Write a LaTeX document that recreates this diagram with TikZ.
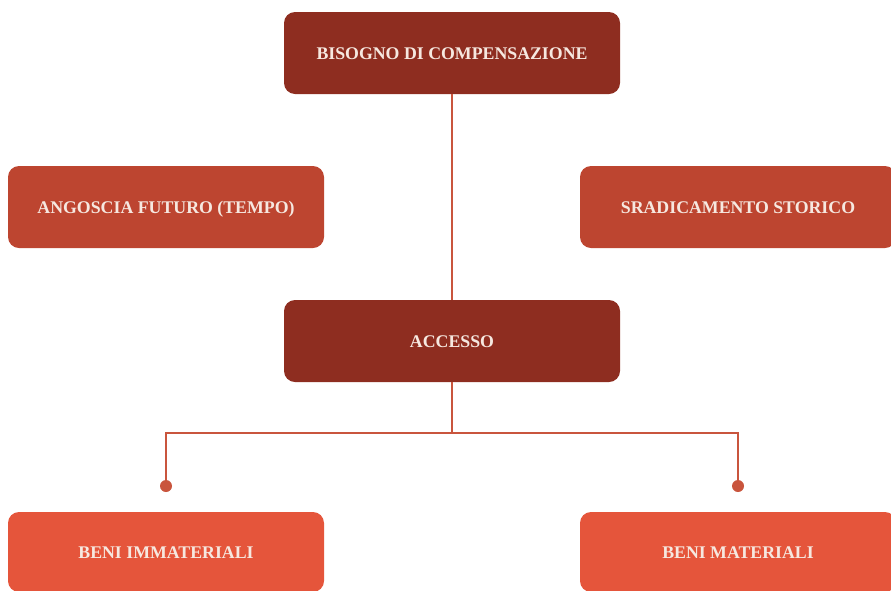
\documentclass[tikz,border=0pt]{standalone}
\usepackage{fontspec}
\setmainfont{Liberation Serif}
\begin{document}
\definecolor{darkbox}{HTML}{8E2D20}
\definecolor{midbox}{HTML}{BD4530}
\definecolor{lightbox}{HTML}{E5553B}
\definecolor{linkcol}{HTML}{C9553D}
\definecolor{labelcol}{HTML}{F6E8E0}
\begin{tikzpicture}[x=1pt,y=-1pt,
  box/.style={rounded corners=11pt, minimum height=82pt, inner sep=0pt,
    text=labelcol, text height=13pt, text depth=0pt,
    font=\fontsize{17.8}{20}\selectfont\bfseries},
  topbox/.style={box, fill=darkbox, minimum width=336pt},
  sidebox/.style={box, fill=midbox, minimum width=316pt},
  leafbox/.style={box, fill=lightbox, minimum width=316pt, minimum height=80pt},
  link/.style={draw=linkcol, line width=1.9pt},
  enddot/.style={circle, fill=linkcol, inner sep=0pt, minimum size=12pt}]
\useasboundingbox (0,0) rectangle (891,590);
\node[topbox] (need) at (452,53) {BISOGNO DI COMPENSAZIONE};
\node[sidebox] (anguish) at (166,207) {ANGOSCIA FUTURO (TEMPO)};
\node[sidebox] (uproot) at (738,207) {SRADICAMENTO STORICO};
\node[topbox] (access) at (452,341) {ACCESSO};
\node[leafbox] (immat) at (166,552) {BENI IMMATERIALI};
\node[leafbox] (mat) at (738,552) {BENI MATERIALI};
\node[enddot] (dotl) at (166,486) {};
\node[enddot] (dotr) at (738,486) {};
\coordinate (fork) at (452,433);
\draw[link] (need.south) -- (access.north);
\draw[link] (access.south) -- (fork);
\draw[link] (fork) -| (dotl.center);
\draw[link] (fork) -| (dotr.center);
\end{tikzpicture}
\end{document}
